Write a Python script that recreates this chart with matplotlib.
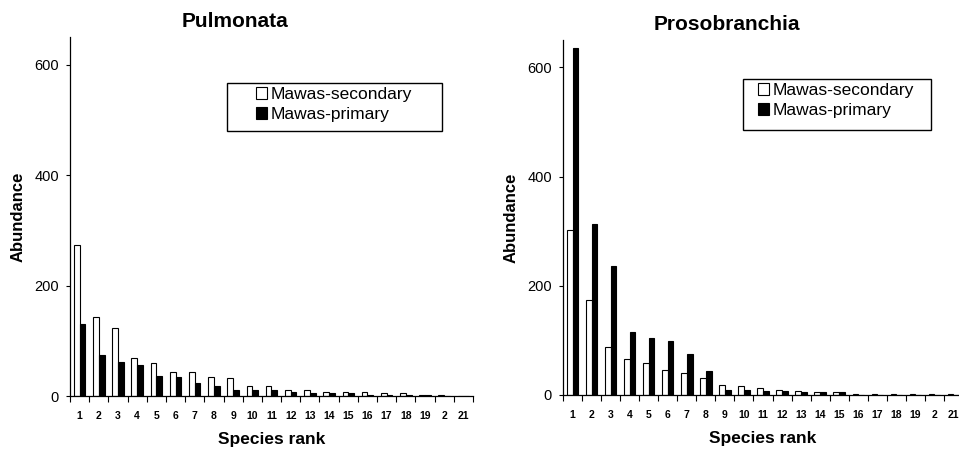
import numpy as np
import matplotlib
matplotlib.use("Agg")
import matplotlib.pyplot as plt
from matplotlib.patches import Rectangle

plt.rcParams['font.family'] = ['Liberation Sans', 'DejaVu Sans']

ranks = list(range(1, 22))
rank_labels = [str(r) for r in range(1, 20)] + ['2', '21']

pulm_secondary = [274, 143, 123, 68, 59, 43, 43, 34, 33, 19, 18, 11, 10, 8, 8, 8, 5, 5, 2, 1, 0]
pulm_primary = [131, 74, 61, 57, 37, 34, 23, 19, 11, 11, 10, 8, 6, 6, 5, 2, 2, 1, 1, 0, 0]

proso_secondary = [303, 174, 87, 66, 59, 45, 40, 32, 19, 16, 12, 10, 8, 6, 6, 1, 1, 1, 1, 1, 1]
proso_primary = [635, 313, 237, 115, 104, 99, 75, 44, 10, 10, 8, 8, 6, 6, 6, 0, 0, 0, 0, 0, 0]

panels = [
    ('Pulmonata', pulm_secondary, pulm_primary),
    ('Prosobranchia', proso_secondary, proso_primary),
]

W, H = 959, 450
fig = plt.figure(figsize=(W / 100, H / 100), dpi=100)

def px(x0, y0, w, h):
    # pixel box (top-left origin) -> figure fraction
    return [x0 / W, 1 - (y0 + h) / H, w / W, h / H]

axes_pos = [px(70, 37, 403, 359), px(563, 40, 400, 355)]
# legend frame boxes and legend anchor (pixels)
legend_boxes = [(227, 83, 215, 48), (743, 79, 188, 51)]
legend_anchor = [(256, 87), (758, 83)]

x = np.array(ranks)
w = 0.3
for (title, sec, prim), pos, lbox, lanc in zip(panels, axes_pos, legend_boxes, legend_anchor):
    ax = fig.add_axes(pos)
    ax.bar(x - w / 2, sec, width=w, color='white', edgecolor='black', linewidth=0.8,
           label='Mawas-secondary')
    ax.bar(x + w / 2, prim, width=w, color='black', edgecolor='black', linewidth=0.8,
           label='Mawas-primary')
    ax.set_xlim(0.5, 21.5)
    ax.set_ylim(0, 650)
    ax.set_yticks([0, 200, 400, 600])
    ax.tick_params(axis='y', labelsize=10.5, direction='out', length=3, width=0.8, pad=5)
    ax.set_xticks(x)
    ax.set_xticklabels(rank_labels, fontsize=7.5, fontweight='bold')
    ax.tick_params(axis='x', length=0, pad=11)
    # category boundary ticks
    ax.set_xticks(np.arange(0.5, 22, 1), minor=True)
    ax.tick_params(axis='x', which='minor', direction='out', length=4, width=0.8)
    for s in ['top', 'right']:
        ax.spines[s].set_visible(False)
    ax.spines['left'].set_linewidth(0.9)
    ax.spines['bottom'].set_linewidth(0.9)
    ax.set_title(title, fontsize=15, fontweight='bold', x=0.41, pad=7)
    ax.set_xlabel('Species rank', fontsize=12.5, fontweight='bold', labelpad=8)
    ax.set_ylabel('Abundance', fontsize=12, fontweight='bold', labelpad=6)
    leg = ax.legend(loc='upper left', bbox_to_anchor=(lanc[0] / W, 1 - lanc[1] / H),
                    bbox_transform=fig.transFigure, fontsize=12.5, frameon=False,
                    handlelength=0.65, handleheight=0.65, handletextpad=0.2,
                    borderpad=0, labelspacing=0.3, borderaxespad=0)
    bx, by, bw, bh = lbox
    fig.add_artist(Rectangle((bx / W, 1 - (by + bh) / H), bw / W, bh / H,
                             transform=fig.transFigure, fill=False,
                             edgecolor='black', linewidth=1.0))

plt.savefig('out.png', dpi=100)
plt.close()
